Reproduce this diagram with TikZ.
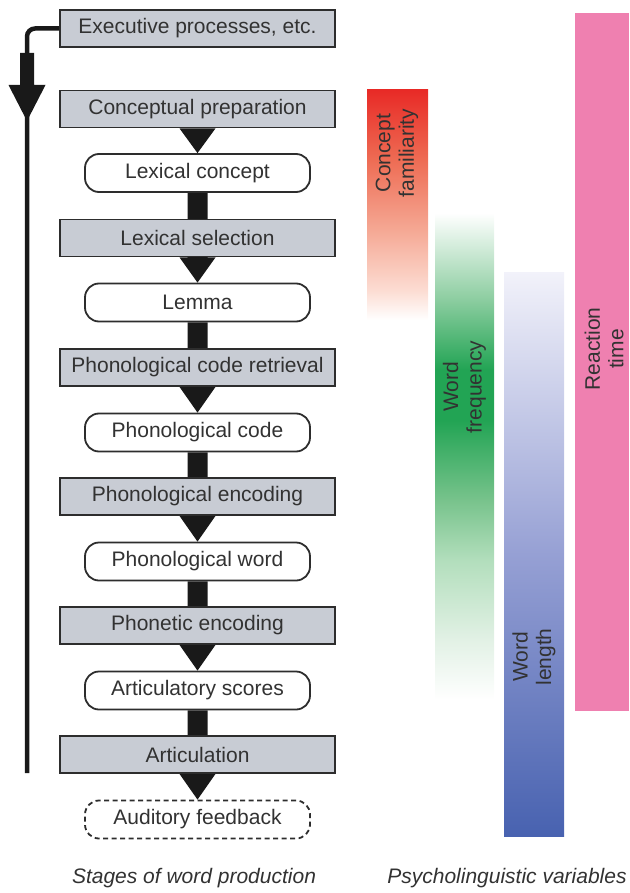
\documentclass[tikz,border=0pt]{standalone}
\usepackage{fontspec}
\setmainfont{Liberation Sans}
\usetikzlibrary{calc,backgrounds}
\definecolor{boxgray}{RGB}{200,204,212}
\definecolor{boxline}{RGB}{45,45,45}
\definecolor{textgray}{RGB}{50,50,50}
\definecolor{arrowblack}{RGB}{25,25,25}
\definecolor{rtpink}{RGB}{239,128,176}
\definecolor{famA}{RGB}{232,42,38}
\definecolor{famB}{RGB}{238,108,84}
\definecolor{famC}{RGB}{245,168,148}
\definecolor{famD}{RGB}{252,220,210}
\definecolor{frqA}{RGB}{140,205,160}
\definecolor{frqB}{RGB}{34,164,84}
\definecolor{frqC}{RGB}{120,195,140}
\definecolor{frqD}{RGB}{178,222,188}
\definecolor{frqE}{RGB}{226,241,229}
\definecolor{lenA}{RGB}{242,242,250}
\definecolor{lenB}{RGB}{150,160,212}
\definecolor{lenC}{RGB}{72,98,176}
\pgfdeclareverticalshading{famshade}{100bp}{color(0bp)=(white); color(25bp)=(white); color(31.5bp)=(famD); color(44.6bp)=(famC); color(59.8bp)=(famB); color(75bp)=(famA); color(100bp)=(famA)}
\pgfdeclareverticalshading{freqshade}{100bp}{color(0bp)=(white); color(25bp)=(white); color(31.2bp)=(frqE); color(39.4bp)=(frqD); color(45.5bp)=(frqC); color(53.7bp)=(frqB); color(58.9bp)=(frqB); color(66.1bp)=(frqA); color(75bp)=(white); color(100bp)=(white)}
\pgfdeclareverticalshading{lenshade}{100bp}{color(0bp)=(lenC); color(25bp)=(lenC); color(50bp)=(lenB); color(75bp)=(lenA); color(100bp)=(lenA)}
\newcommand\fatarrow[3]{\fill[arrowblack] ($(#1.south)+(-10,0)$) -- ($(#2.south)+(-10,0)$) -- ($(#2.south)+(-18,0)$) -- (#3.north) -- ($(#2.south)+(18,0)$) -- ($(#2.south)+(10,0)$) -- ($(#1.south)+(10,0)$) -- cycle;}
\begin{document}
\begin{tikzpicture}[x=1pt,y=-1pt,
  font=\fontsize{21}{23.5}\selectfont,
  graybox/.style={draw=boxline, line width=1.8pt, fill=boxgray, minimum width=275pt, minimum height=37pt, inner sep=0pt, text=textgray},
  roundbox/.style={draw=boxline, line width=1.8pt, fill=white, rounded corners=14pt, minimum width=225pt, minimum height=38pt, inner sep=0pt, text=textgray},
  dashbox/.style={roundbox, dash pattern=on 5pt off 3.5pt},
  vlabel/.style={rotate=90, align=center, text=textgray, inner sep=0pt},
  caption/.style={text=textgray, font=\fontsize{21}{23.5}\selectfont\itshape}]
\useasboundingbox (0,0) rectangle (629,893);
% bars
\shade[shading=famshade] (367,90) rectangle (428,320);
\shade[shading=freqshade] (435,213) rectangle (494,700);
\shade[shading=lenshade] (504,272) rectangle (564,836);
\fill[rtpink] (575,13) rectangle (629,711);
\node[vlabel] (lfam) at (397,153) {Concept\\familiarity};
\node[vlabel] (lfrq) at (464.5,387) {Word\\frequency};
\node[vlabel] (llen) at (534,657) {Word\\length};
\node[vlabel] (lrt) at (604,349) {Reaction\\time};
% stages
\node[graybox] (exec) at (197.5,28.5) {Executive processes, etc.};
\node[graybox] (cp) at (197.5,109) {Conceptual preparation};
\node[roundbox] (lc) at (197.5,173) {Lexical concept};
\node[graybox] (ls) at (197.5,238) {Lexical selection};
\node[roundbox] (lem) at (197.5,302.5) {Lemma};
\node[graybox] (pcr) at (197.5,367.5) {Phonological code retrieval};
\node[roundbox] (pc) at (197.5,432.5) {Phonological code};
\node[graybox] (pe) at (197.5,496.5) {Phonological encoding};
\node[roundbox] (pw) at (197.5,561.5) {Phonological word};
\node[graybox] (phe) at (197.5,625.5) {Phonetic encoding};
\node[roundbox] (as) at (197.5,690.5) {Articulatory scores};
\node[graybox] (art) at (197.5,754.5) {Articulation};
\node[dashbox] (af) at (197.5,819.5) {Auditory feedback};
\begin{scope}[on background layer]
\fatarrow{cp}{cp}{lc}
\fatarrow{lc}{ls}{lem}
\fatarrow{lem}{pcr}{pc}
\fatarrow{pc}{pe}{pw}
\fatarrow{pw}{phe}{as}
\fatarrow{as}{art}{af}
\end{scope}
% feedback line
\coordinate (fbend) at (27,773);
\coordinate (fbtop) at (27,53);
\draw[arrowblack, line width=4.5pt, rounded corners=8pt] (exec.west) -| (fbend);
\fill[arrowblack] ($(fbtop)+(-7,0)$) -- ($(fbtop)+(-7,32)$) -- ($(fbtop)+(-18.5,32)$) -- ($(fbtop)+(0,68)$) -- ($(fbtop)+(18.5,32)$) -- ($(fbtop)+(7,32)$) -- ($(fbtop)+(7,0)$) -- cycle;
% captions
\node[caption] (cap1) at (194,878) {Stages of word production};
\node[caption] (cap2) at (507,878) {Psycholinguistic variables};
\end{tikzpicture}
\end{document}
